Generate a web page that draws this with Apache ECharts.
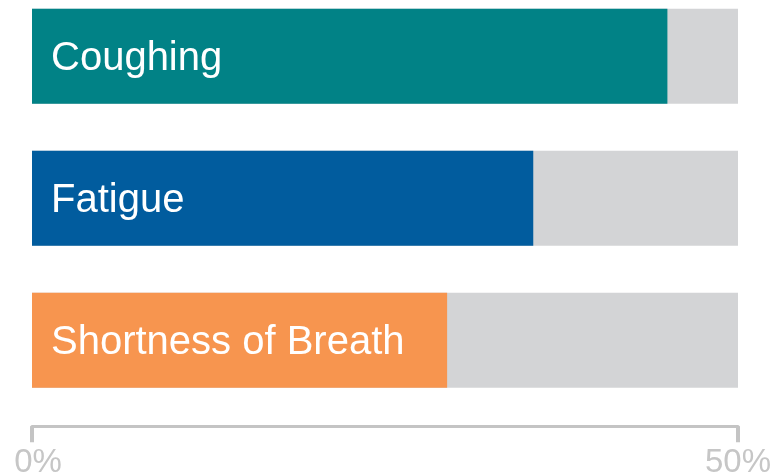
<!DOCTYPE html>
<html>
<head>
<meta charset="utf-8">
<script src="https://cdn.jsdelivr.net/npm/echarts@6/dist/echarts.min.js"></script>
<style>
  html, body { margin: 0; padding: 0; background: #fff; }
  #chart { width: 776px; height: 476px; }
</style>
</head>
<body>
<div id="chart"></div>
<script>
  var symptoms = ['Coughing', 'Fatigue', 'Shortness of Breath'];
  var shares = [45.0, 35.5, 29.4];          // percent
  var barColors = ['#018286', '#015c9e', '#f7954f'];
  var axisMax = 50;

  var font = '"Liberation Sans", Arial, sans-serif';

  var data = shares.map(function (v, i) {
    return { value: v, itemStyle: { color: barColors[i] } };
  });

  var option = {
    animation: false,
    grid: { left: 32, right: 38, top: 56.3, bottom: 135.7, outerBoundsMode: 'none' },
    xAxis: {
      type: 'value',
      min: 0,
      max: axisMax,
      interval: 50,
      offset: 86,
      splitLine: { show: false },
      axisLine: { show: true, lineStyle: { color: '#c4c4c4', width: 3 } },
      axisTick: { show: true, length: 16, lineStyle: { color: '#c4c4c4', width: 4 } },
      axisLabel: {
        margin: 20,
        color: '#c6c6c6',
        fontSize: 33,
        fontFamily: font,
        formatter: function (v) {
          return v === 0 ? '{a|0%}' : v + '%';
        },
        rich: { a: { fontSize: 33, fontFamily: font, color: '#c6c6c6', padding: [0, 0, 0, 12] } }
      }
    },
    yAxis: {
      type: 'category',
      data: symptoms,
      inverse: true,
      boundaryGap: false,
      axisLine: { show: false },
      axisTick: { show: false },
      axisLabel: { show: false }
    },
    series: [{
      type: 'bar',
      data: data,
      barWidth: 95,
      showBackground: true,
      backgroundStyle: { color: '#d3d4d6' },
      label: {
        show: true,
        position: 'insideLeft',
        distance: 19,
        offset: [0, 3],
        formatter: '{b}',
        color: '#fff',
        fontSize: 40,
        fontFamily: font
      }
    }]
  };

  var myChart = echarts.init(document.getElementById('chart'));
  myChart.setOption(option);
</script>
</body>
</html>
